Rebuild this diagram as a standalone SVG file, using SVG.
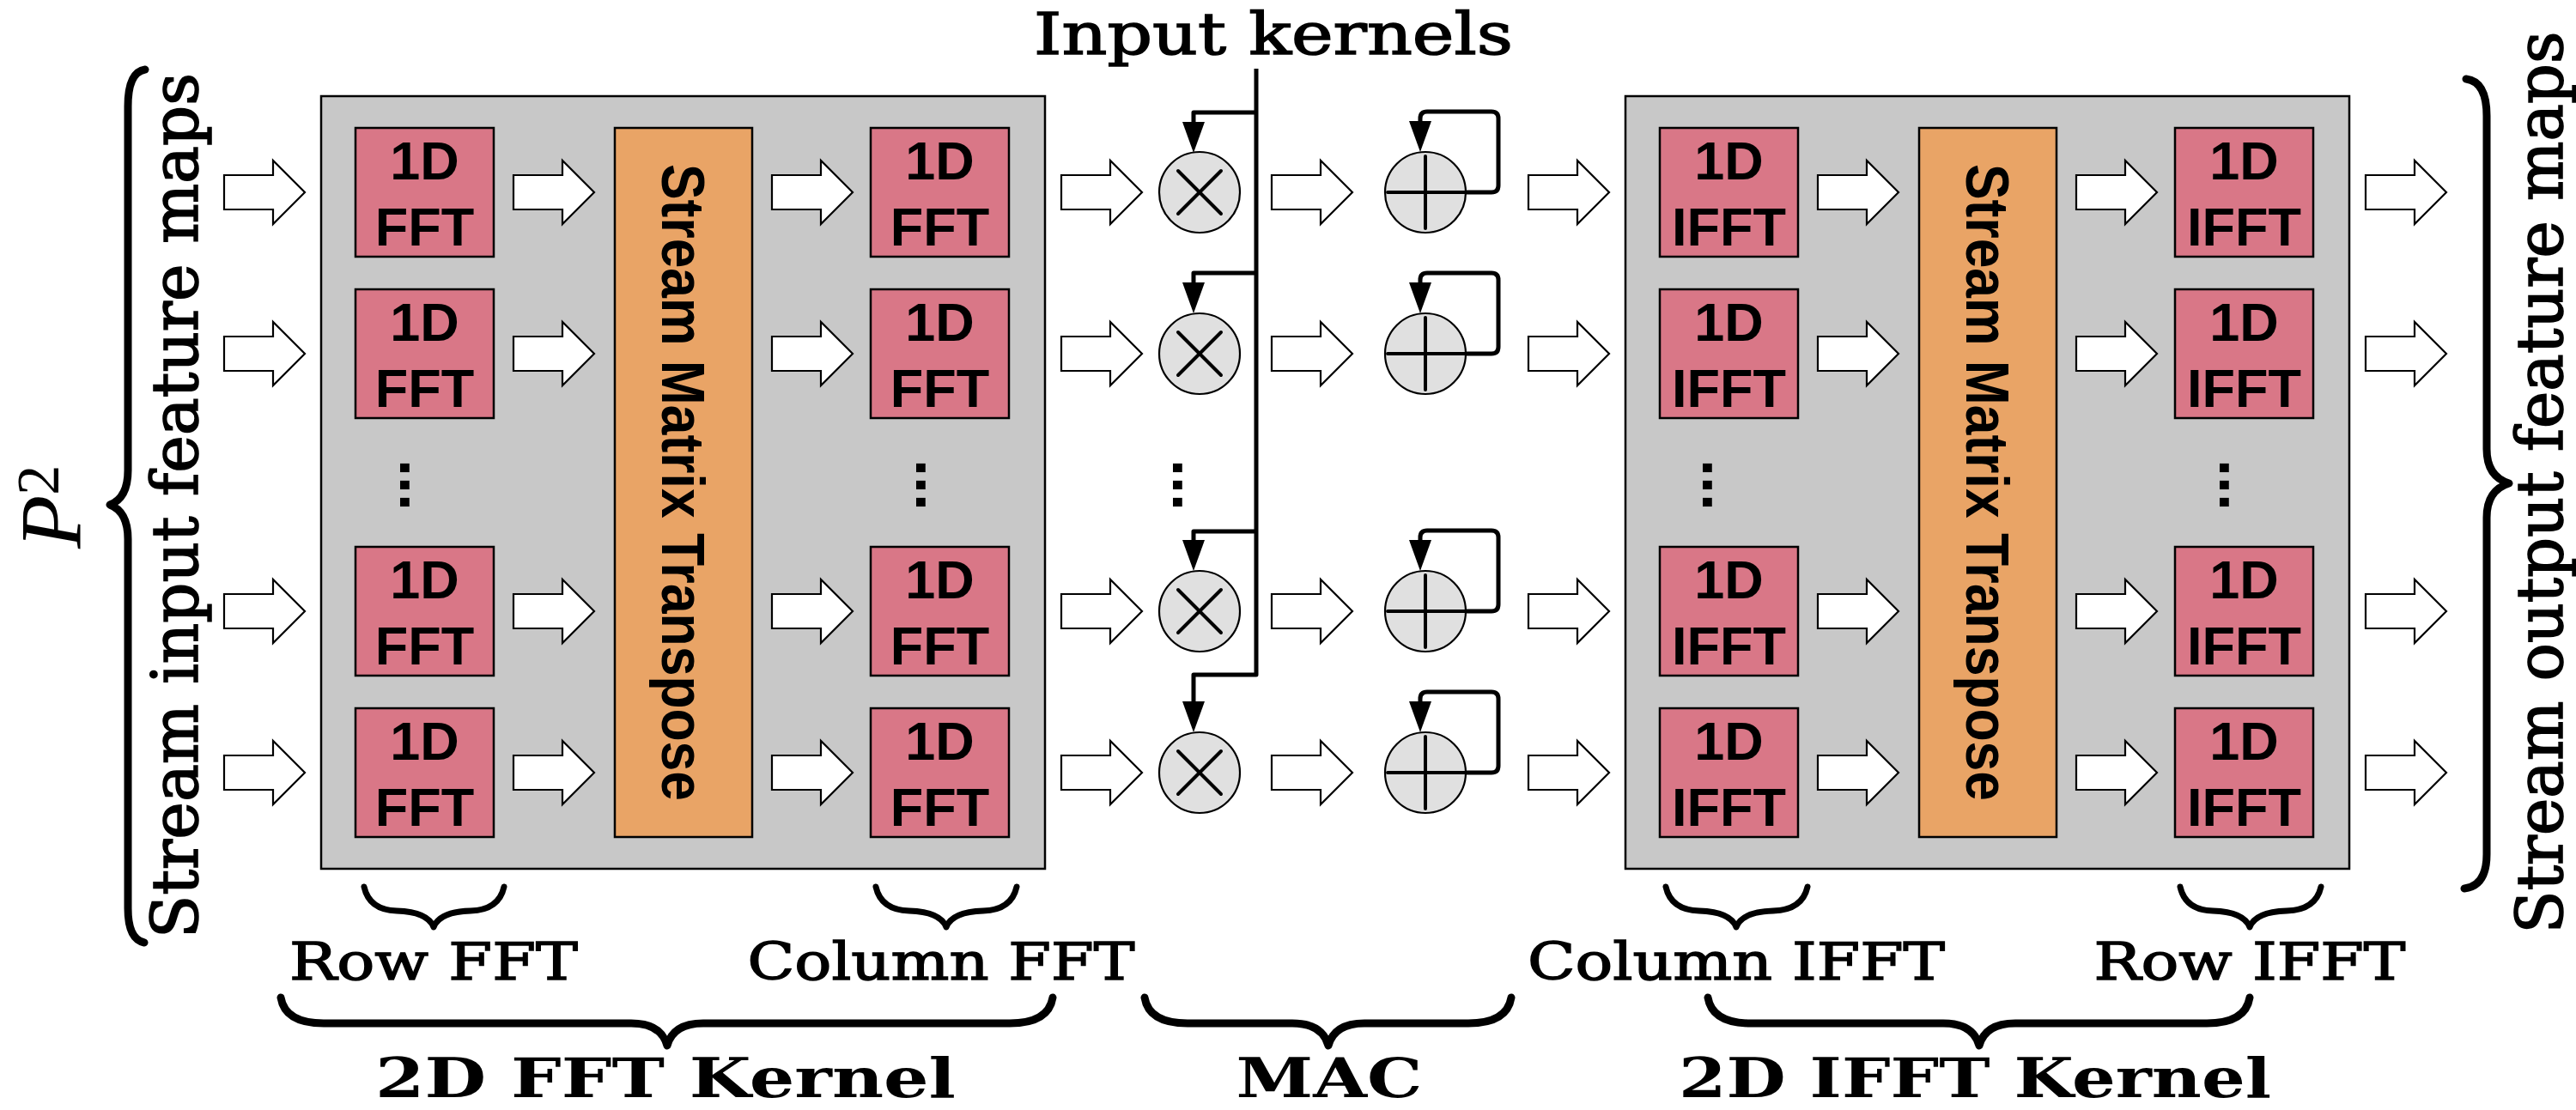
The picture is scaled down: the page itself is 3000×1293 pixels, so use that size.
<svg xmlns="http://www.w3.org/2000/svg" width="3000" height="1293" viewBox="0 0 3000 1293">
<style>
.blk{fill:#c8c8c8;stroke:#000;stroke-width:2.5}
.fft{fill:#d97787;stroke:#000;stroke-width:2.5}
.tr{fill:#e9a466;stroke:#000;stroke-width:2.5}
.op{fill:#e0e0e0;stroke:#000;stroke-width:2.2}
.bt{font-family:"Liberation Sans",Arial,sans-serif;font-weight:bold;font-size:63px;text-anchor:middle;fill:#000}
.tt{font-family:"Liberation Sans",Arial,sans-serif;font-weight:bold;font-size:70px;text-anchor:middle;fill:#000}
.dots{font-family:"Liberation Sans",Arial,sans-serif;font-weight:bold;font-size:72px;text-anchor:middle;fill:#000}
.sym{stroke:#000;stroke-width:4;stroke-linecap:round;fill:none}
.wire{fill:none;stroke:#000;stroke-width:5;stroke-linejoin:round}
.brace{fill:none;stroke:#000;stroke-width:9;stroke-linecap:round;stroke-linejoin:round}
.sbrace{fill:none;stroke:#000;stroke-width:7;stroke-linecap:round;stroke-linejoin:round}
.lbl{font-family:"DejaVu Serif","Liberation Serif",serif;font-size:59px;text-anchor:middle;fill:#000;stroke:#000;stroke-width:1.4}
.side{font-family:"DejaVu Serif","Liberation Serif",serif;font-size:75px;text-anchor:middle;fill:#000;stroke:#000;stroke-width:1.6}
.top{font-family:"DejaVu Serif","Liberation Serif",serif;font-size:68px;text-anchor:middle;fill:#000;stroke:#000;stroke-width:1.5}
.big{font-family:"DejaVu Serif","Liberation Serif",serif;font-weight:bold;font-size:64px;text-anchor:middle;fill:#000}
</style>
<defs>
<path id="ba" d="M0,-20 H57 V-37 L94,0 L57,37 V20 H0 Z" fill="#fff" stroke="#000" stroke-width="2.2" stroke-linejoin="miter"/>
<marker id="ah" markerUnits="userSpaceOnUse" viewBox="0 0 36 26" refX="6" refY="13" markerWidth="36" markerHeight="26" orient="auto">
<path d="M0,0 L36,13 L0,26 Z" fill="#000"/>
</marker>
</defs>
<rect width="3000" height="1293" fill="#fff"/>

<g id="fft-kernel-block"><rect class="blk" x="374" y="112" width="843" height="900"/></g>
<g id="ifft-kernel-block"><rect class="blk" x="1893" y="112" width="843" height="900"/></g>

<g id="row-fft-1"><rect class="fft" x="414" y="149" width="161" height="150"/><text class="bt" x="494.5" y="209">1D</text><text class="bt" x="494.5" y="286">FFT</text></g>
<g id="row-fft-2"><rect class="fft" x="414" y="337" width="161" height="150"/><text class="bt" x="494.5" y="397">1D</text><text class="bt" x="494.5" y="474">FFT</text></g>
<g id="row-fft-3"><rect class="fft" x="414" y="637" width="161" height="150"/><text class="bt" x="494.5" y="697">1D</text><text class="bt" x="494.5" y="774">FFT</text></g>
<g id="row-fft-4"><rect class="fft" x="414" y="825" width="161" height="150"/><text class="bt" x="494.5" y="885">1D</text><text class="bt" x="494.5" y="962">FFT</text></g>

<g id="transpose-1"><rect class="tr" x="716" y="149" width="160" height="826"/><text class="tt" transform="translate(771,562) rotate(90)" textLength="742" lengthAdjust="spacingAndGlyphs">Stream Matrix Transpose</text></g>

<g id="col-fft-1"><rect class="fft" x="1014" y="149" width="161" height="150"/><text class="bt" x="1094.5" y="209">1D</text><text class="bt" x="1094.5" y="286">FFT</text></g>
<g id="col-fft-2"><rect class="fft" x="1014" y="337" width="161" height="150"/><text class="bt" x="1094.5" y="397">1D</text><text class="bt" x="1094.5" y="474">FFT</text></g>
<g id="col-fft-3"><rect class="fft" x="1014" y="637" width="161" height="150"/><text class="bt" x="1094.5" y="697">1D</text><text class="bt" x="1094.5" y="774">FFT</text></g>
<g id="col-fft-4"><rect class="fft" x="1014" y="825" width="161" height="150"/><text class="bt" x="1094.5" y="885">1D</text><text class="bt" x="1094.5" y="962">FFT</text></g>

<g id="col-ifft-1"><rect class="fft" x="1933" y="149" width="161" height="150"/><text class="bt" x="2013.5" y="209">1D</text><text class="bt" x="2013.5" y="286">IFFT</text></g>
<g id="col-ifft-2"><rect class="fft" x="1933" y="337" width="161" height="150"/><text class="bt" x="2013.5" y="397">1D</text><text class="bt" x="2013.5" y="474">IFFT</text></g>
<g id="col-ifft-3"><rect class="fft" x="1933" y="637" width="161" height="150"/><text class="bt" x="2013.5" y="697">1D</text><text class="bt" x="2013.5" y="774">IFFT</text></g>
<g id="col-ifft-4"><rect class="fft" x="1933" y="825" width="161" height="150"/><text class="bt" x="2013.5" y="885">1D</text><text class="bt" x="2013.5" y="962">IFFT</text></g>

<g id="transpose-2"><rect class="tr" x="2235" y="149" width="160" height="826"/><text class="tt" transform="translate(2290,562) rotate(90)" textLength="742" lengthAdjust="spacingAndGlyphs">Stream Matrix Transpose</text></g>

<g id="row-ifft-1"><rect class="fft" x="2533" y="149" width="161" height="150"/><text class="bt" x="2613.5" y="209">1D</text><text class="bt" x="2613.5" y="286">IFFT</text></g>
<g id="row-ifft-2"><rect class="fft" x="2533" y="337" width="161" height="150"/><text class="bt" x="2613.5" y="397">1D</text><text class="bt" x="2613.5" y="474">IFFT</text></g>
<g id="row-ifft-3"><rect class="fft" x="2533" y="637" width="161" height="150"/><text class="bt" x="2613.5" y="697">1D</text><text class="bt" x="2613.5" y="774">IFFT</text></g>
<g id="row-ifft-4"><rect class="fft" x="2533" y="825" width="161" height="150"/><text class="bt" x="2613.5" y="885">1D</text><text class="bt" x="2613.5" y="962">IFFT</text></g>

<g id="mult-1"><circle class="op" cx="1397" cy="224" r="47"/><path class="sym" stroke-width="3.5" d="M1372,199 L1422,249 M1372,249 L1422,199"/></g>
<g id="mult-2"><circle class="op" cx="1397" cy="412" r="47"/><path class="sym" stroke-width="3.5" d="M1372,387 L1422,437 M1372,437 L1422,387"/></g>
<g id="mult-3"><circle class="op" cx="1397" cy="712" r="47"/><path class="sym" stroke-width="3.5" d="M1372,687 L1422,737 M1372,737 L1422,687"/></g>
<g id="mult-4"><circle class="op" cx="1397" cy="900" r="47"/><path class="sym" stroke-width="3.5" d="M1372,875 L1422,925 M1372,925 L1422,875"/></g>

<g id="add-1"><circle class="op" cx="1660" cy="224" r="47"/><path class="sym" stroke-width="5" d="M1660,182 V266 M1616,224 H1707"/></g>
<g id="add-2"><circle class="op" cx="1660" cy="412" r="47"/><path class="sym" stroke-width="5" d="M1660,370 V454 M1616,412 H1707"/></g>
<g id="add-3"><circle class="op" cx="1660" cy="712" r="47"/><path class="sym" stroke-width="5" d="M1660,670 V754 M1616,712 H1707"/></g>
<g id="add-4"><circle class="op" cx="1660" cy="900" r="47"/><path class="sym" stroke-width="5" d="M1660,858 V942 M1616,900 H1707"/></g>

<g id="ellipses">
<text class="dots" transform="translate(466,565) rotate(90)">...</text>
<text class="dots" transform="translate(1067,565) rotate(90)">...</text>
<text class="dots" transform="translate(1366,565) rotate(90)">...</text>
<text class="dots" transform="translate(1983,565) rotate(90)">...</text>
<text class="dots" transform="translate(2585,565) rotate(90)">...</text>
</g>

<g id="connectors">
<use href="#ba" x="261" y="224"/><use href="#ba" x="598" y="224"/><use href="#ba" x="899" y="224"/><use href="#ba" x="1236" y="224"/><use href="#ba" x="1481" y="224"/><use href="#ba" x="1780" y="224"/><use href="#ba" x="2117" y="224"/><use href="#ba" x="2418" y="224"/><use href="#ba" x="2755" y="224"/>
<use href="#ba" x="261" y="412"/><use href="#ba" x="598" y="412"/><use href="#ba" x="899" y="412"/><use href="#ba" x="1236" y="412"/><use href="#ba" x="1481" y="412"/><use href="#ba" x="1780" y="412"/><use href="#ba" x="2117" y="412"/><use href="#ba" x="2418" y="412"/><use href="#ba" x="2755" y="412"/>
<use href="#ba" x="261" y="712"/><use href="#ba" x="598" y="712"/><use href="#ba" x="899" y="712"/><use href="#ba" x="1236" y="712"/><use href="#ba" x="1481" y="712"/><use href="#ba" x="1780" y="712"/><use href="#ba" x="2117" y="712"/><use href="#ba" x="2418" y="712"/><use href="#ba" x="2755" y="712"/>
<use href="#ba" x="261" y="900"/><use href="#ba" x="598" y="900"/><use href="#ba" x="899" y="900"/><use href="#ba" x="1236" y="900"/><use href="#ba" x="1481" y="900"/><use href="#ba" x="1780" y="900"/><use href="#ba" x="2117" y="900"/><use href="#ba" x="2418" y="900"/><use href="#ba" x="2755" y="900"/>
<path class="wire" stroke-width="5.5" d="M1463,80 V786 H1390 V823" marker-end="url(#ah)"/>
<path class="wire" d="M1463,131 H1390 V148" marker-end="url(#ah)"/>
<path class="wire" d="M1463,318 H1390 V335" marker-end="url(#ah)"/>
<path class="wire" d="M1463,619 H1390 V635" marker-end="url(#ah)"/>
<path class="wire" d="M1707,224 H1737 Q1745,224 1745,216 V138 Q1745,130 1737,130 H1662 Q1654,130 1654,138 V147" marker-end="url(#ah)"/>
<path class="wire" d="M1707,412 H1737 Q1745,412 1745,404 V326 Q1745,318 1737,318 H1662 Q1654,318 1654,326 V335" marker-end="url(#ah)"/>
<path class="wire" d="M1707,712 H1737 Q1745,712 1745,704 V626 Q1745,618 1737,618 H1662 Q1654,618 1654,626 V635" marker-end="url(#ah)"/>
<path class="wire" d="M1707,900 H1737 Q1745,900 1745,892 V814 Q1745,806 1737,806 H1662 Q1654,806 1654,814 V823" marker-end="url(#ah)"/>
</g>

<g id="braces">
<path class="brace" d="M169,81 Q149,84 149,124 V548 Q149,580 128,588 Q149,596 149,628 V1058 Q149,1094 168,1098"/>
<path class="brace" d="M2872,92 Q2896,95 2896,135 V523 Q2896,555 2922,563 Q2896,571 2896,603 V995 Q2896,1032 2870,1035"/>
<path class="sbrace" d="M424,1033 Q430,1060 462,1061 Q498,1062 505,1080 Q512,1062 548,1061 Q581,1060 587,1033"/>
<path class="sbrace" d="M1020,1033 Q1026,1060 1059,1061 Q1095,1062 1102,1080 Q1109,1062 1145,1061 Q1178,1060 1184,1033"/>
<path class="sbrace" d="M1940,1033 Q1946,1060 1979,1061 Q2015,1062 2022,1080 Q2029,1062 2065,1061 Q2099,1060 2105,1033"/>
<path class="sbrace" d="M2539,1033 Q2545,1060 2577,1061 Q2613,1062 2620,1080 Q2627,1062 2663,1061 Q2697,1060 2703,1033"/>
<path class="brace" d="M327,1162 Q332,1192 377,1192 H735 Q770,1192 777,1218 Q784,1192 819,1192 H1176 Q1221,1192 1226,1162"/>
<path class="brace" d="M1333,1162 Q1338,1192 1383,1192 H1505 Q1540,1192 1547,1218 Q1554,1192 1589,1192 H1710 Q1755,1192 1760,1162"/>
<path class="brace" d="M1989,1162 Q1994,1192 2039,1192 H2263 Q2298,1192 2305,1218 Q2312,1192 2347,1192 H2570 Q2615,1192 2620,1162"/>
</g>

<g id="labels">
<text class="top" x="1483" y="63" textLength="558" lengthAdjust="spacingAndGlyphs">Input kernels</text>
<text class="side" transform="translate(230,589) rotate(-90)" textLength="1008" lengthAdjust="spacingAndGlyphs">Stream input feature maps</text>
<text class="side" transform="translate(2984,562) rotate(-90)" textLength="1051" lengthAdjust="spacingAndGlyphs">Stream output feature maps</text>
<text transform="translate(94,639) rotate(-90)" font-family="Liberation Serif, serif" font-style="italic" font-size="102">P<tspan font-size="70" font-style="normal" dy="-26">2</tspan></text>
<text class="lbl" x="505" y="1141" textLength="336" lengthAdjust="spacingAndGlyphs">Row FFT</text>
<text class="lbl" x="1096" y="1141" textLength="451" lengthAdjust="spacingAndGlyphs">Column FFT</text>
<text class="lbl" x="2022" y="1141" textLength="486" lengthAdjust="spacingAndGlyphs">Column IFFT</text>
<text class="lbl" x="2620" y="1141" textLength="363" lengthAdjust="spacingAndGlyphs">Row IFFT</text>
<text class="big" x="775" y="1278" textLength="676" lengthAdjust="spacingAndGlyphs">2D FFT Kernel</text>
<text class="big" x="1548" y="1278" textLength="217" lengthAdjust="spacingAndGlyphs">MAC</text>
<text class="big" x="2300" y="1278" textLength="690" lengthAdjust="spacingAndGlyphs">2D IFFT Kernel</text>
</g>
</svg>
